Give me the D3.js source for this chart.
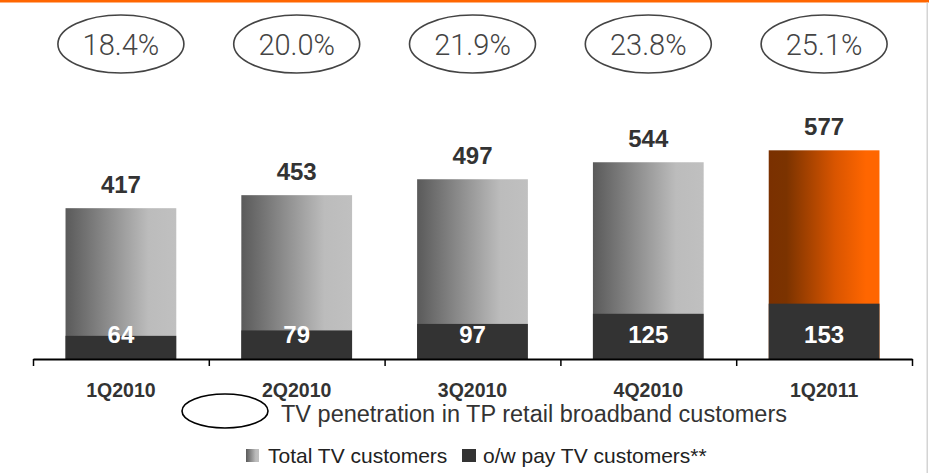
<!DOCTYPE html>
<html>
<head>
<meta charset="utf-8">
<script src="https://cdn.jsdelivr.net/npm/d3@7"></script>
<style>
  html, body { margin: 0; padding: 0; background: #fff; }
  svg { display: block; }
</style>
</head>
<body>
<svg id="chart" width="929" height="473"></svg>
<script>
// Quarterly TV customer figures (thousands)
const quarters = ["1Q2010", "2Q2010", "3Q2010", "4Q2010", "1Q2011"];
const totalTV = [417, 453, 497, 544, 577];
const payTV = [64, 79, 97, 125, 153];
const penetration = ["18.4%", "20.0%", "21.9%", "23.8%", "25.1%"];

const svg = d3.select("#chart");
const W = 929, H = 473;
const baseY = 359;
const font = "Liberation Sans, Arial, Helvetica, sans-serif";

// Frame: orange rule on top, light rule on the right
svg.append("rect").attr("x", 0).attr("y", 0).attr("width", W).attr("height", 2.5).attr("fill", "#ff6600");
svg.append("rect").attr("x", 926.5).attr("y", 2.5).attr("width", 1.5).attr("height", H).attr("fill", "#d4d4d4");

// Gradients
const defs = svg.append("defs");
const gGrey = defs.append("linearGradient").attr("id", "gradGrey").attr("x1", 0).attr("x2", 1).attr("y1", 0).attr("y2", 0);
gGrey.append("stop").attr("offset", "0%").attr("stop-color", "#5a5a5a");
gGrey.append("stop").attr("offset", "75%").attr("stop-color", "#bcbcbc");
gGrey.append("stop").attr("offset", "100%").attr("stop-color", "#c0c0c0");
const gOrange = defs.append("linearGradient").attr("id", "gradOrange").attr("x1", 0).attr("x2", 1).attr("y1", 0).attr("y2", 0);
gOrange.append("stop").attr("offset", "0%").attr("stop-color", "#7a3000");
gOrange.append("stop").attr("offset", "16%").attr("stop-color", "#7b3300");
gOrange.append("stop").attr("offset", "60%").attr("stop-color", "#d95500");
gOrange.append("stop").attr("offset", "88%").attr("stop-color", "#ff6600");
gOrange.append("stop").attr("offset", "100%").attr("stop-color", "#ff6600");

// Scales
const x = d3.scaleBand().domain(quarters).range([33, 912]).paddingInner(0.37).paddingOuter(0.185);
const y = d3.scaleLinear().domain([0, 600]).range([baseY, baseY - 217]);

// Total TV bars (latest quarter highlighted in orange)
svg.append("g").selectAll("rect").data(quarters).join("rect")
  .attr("x", d => x(d))
  .attr("width", x.bandwidth())
  .attr("y", (d, i) => y(totalTV[i]))
  .attr("height", (d, i) => y(0) - y(totalTV[i]))
  .attr("fill", (d, i) => i === quarters.length - 1 ? "url(#gradOrange)" : "url(#gradGrey)");

// Pay TV segments
svg.append("g").selectAll("rect").data(quarters).join("rect")
  .attr("x", d => x(d))
  .attr("width", x.bandwidth())
  .attr("y", (d, i) => y(payTV[i]))
  .attr("height", (d, i) => y(0) - y(payTV[i]))
  .attr("fill", "#333333");

// Total value labels
svg.append("g").selectAll("text").data(quarters).join("text")
  .attr("x", d => x(d) + x.bandwidth() / 2)
  .attr("y", (d, i) => y(totalTV[i]) - 15)
  .attr("text-anchor", "middle")
  .attr("font-family", font).attr("font-weight", "bold").attr("font-size", 24)
  .attr("fill", "#333")
  .text((d, i) => totalTV[i]);

// Pay TV value labels
svg.append("g").selectAll("text").data(quarters).join("text")
  .attr("x", d => x(d) + x.bandwidth() / 2)
  .attr("y", 342.5)
  .attr("text-anchor", "middle")
  .attr("font-family", font).attr("font-weight", "bold").attr("font-size", 24)
  .attr("fill", "#fff")
  .text((d, i) => payTV[i]);

// Axis with ticks at band boundaries
const edges = d3.scaleLinear().domain([0, quarters.length]).range([33, 912]);
const axisG = svg.append("g").attr("transform", `translate(0,${baseY})`)
  .call(d3.axisBottom(edges).tickValues(d3.range(0, quarters.length + 1)).tickFormat("").tickSize(7).tickSizeOuter(0));
axisG.select(".domain").attr("stroke", "#000").attr("stroke-width", 2.2);
axisG.selectAll(".tick line").attr("stroke", "#000").attr("stroke-width", 1.5);

// Category labels
const catG = svg.append("g").attr("transform", `translate(0,${baseY})`)
  .call(d3.axisBottom(x).tickSize(0).tickPadding(0));
catG.select(".domain").remove();
catG.selectAll(".tick text")
  .attr("dy", null).attr("y", 38)
  .attr("font-family", font).attr("font-weight", "bold").attr("font-size", 19.5)
  .attr("fill", "#333");

// Penetration ellipses
const pen = svg.append("g").selectAll("g").data(quarters).join("g")
  .attr("transform", d => `translate(${x(d) + x.bandwidth() / 2},44)`);
pen.append("ellipse").attr("rx", 63).attr("ry", 29)
  .attr("fill", "none").attr("stroke", "#444").attr("stroke-width", 1.6);
pen.append("text")
  .attr("y", 10.5)
  .attr("text-anchor", "middle")
  .attr("font-family", "Roboto, sans-serif").attr("font-weight", 300).attr("font-size", 29)
  .attr("fill", "#444")
  .text((d, i) => penetration[i]);

// Legend: penetration marker
svg.append("ellipse").attr("cx", 225).attr("cy", 411).attr("rx", 43).attr("ry", 17)
  .attr("fill", "none").attr("stroke", "#000").attr("stroke-width", 1.6);
svg.append("text").attr("x", 281).attr("y", 422)
  .attr("font-family", font).attr("font-size", 23.5).attr("fill", "#333")
  .text("TV penetration in TP retail broadband customers");

// Legend: series
svg.append("rect").attr("x", 246).attr("y", 449).attr("width", 13).attr("height", 13).attr("fill", "url(#gradGrey)");
svg.append("text").attr("x", 268).attr("y", 463)
  .attr("font-family", font).attr("font-size", 21).attr("fill", "#222")
  .text("Total TV customers");
svg.append("rect").attr("x", 462).attr("y", 449).attr("width", 14).attr("height", 13).attr("fill", "#333");
svg.append("text").attr("x", 483).attr("y", 463)
  .attr("font-family", font).attr("font-size", 21).attr("fill", "#222")
  .text("o/w pay TV customers**");
</script>
</body>
</html>
